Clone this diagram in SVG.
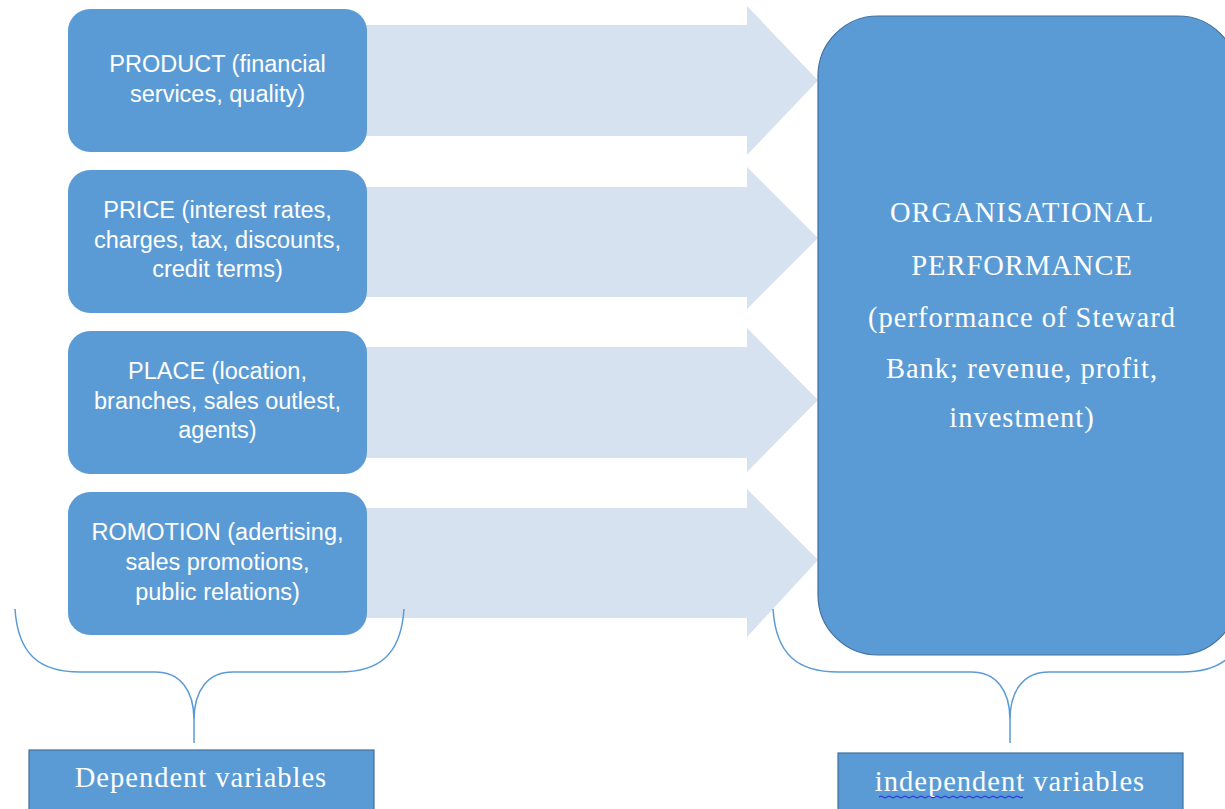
<svg xmlns="http://www.w3.org/2000/svg" width="1225" height="809" viewBox="0 0 1225 809">
<style>
.box{fill:#5b9bd5;}
.big{fill:#5b9bd5;stroke:#41719c;stroke-width:1.2;}
.arrow{fill:#d7e2f1;}
.brace{fill:none;stroke:#5b9bd5;stroke-width:1.5;}
.lbl{fill:#5b9bd5;stroke:#41719c;stroke-width:1.2;}
.sans{font-family:"Liberation Sans",Arial,sans-serif;font-size:23.5px;fill:#ffffff;text-anchor:middle;}
.serif{font-family:"Liberation Serif","Times New Roman",serif;font-size:28.5px;letter-spacing:1px;fill:#ffffff;text-anchor:middle;}
</style>
<rect width="1225" height="809" fill="#ffffff"/>
<g id="connectors">
<polygon class="arrow" points="340,25 747,25 747,6 818,80.5 747,155 747,136 340,136"/>
<polygon class="arrow" points="340,187 747,187 747,167 818,238 747,309 747,297 340,297"/>
<polygon class="arrow" points="340,347 747,347 747,328 818,400 747,472 747,458 340,458"/>
<polygon class="arrow" points="340,508 747,508 747,489 818,560 747,637 747,618 340,618"/>
<path class="brace" d="M15,609 C18,655 40,672 80,672 L155,672 C180,672 194,690 194,720 L194,743 M404,609 C401,655 379,672 339,672 L233,672 C208,672 194,690 194,720"/>
<path class="brace" d="M773,609 C776,655 798,672 838,672 L971,672 C996,672 1010,690 1010,720 L1010,743 M1247,609 C1244,655 1222,672 1182,672 L1049,672 C1024,672 1010,690 1010,720"/>
</g>
<g id="product">
<rect class="box" x="68" y="9" width="299" height="143" rx="22"/>
<text class="sans" x="217.5" y="72">PRODUCT (financial</text>
<text class="sans" x="217.5" y="102">services, quality)</text>
</g>
<g id="price">
<rect class="box" x="68" y="170" width="299" height="143" rx="22"/>
<text class="sans" x="217.5" y="218">PRICE (interest rates,</text>
<text class="sans" x="217.5" y="248">charges, tax, discounts,</text>
<text class="sans" x="217.5" y="277">credit terms)</text>
</g>
<g id="place">
<rect class="box" x="68" y="331" width="299" height="143" rx="22"/>
<text class="sans" x="217.5" y="379">PLACE (location,</text>
<text class="sans" x="217.5" y="409">branches, sales outlest,</text>
<text class="sans" x="217.5" y="438">agents)</text>
</g>
<g id="promotion">
<rect class="box" x="68" y="492" width="299" height="143" rx="22"/>
<text class="sans" x="217.5" y="540">ROMOTION (adertising,</text>
<text class="sans" x="217.5" y="570">sales promotions,</text>
<text class="sans" x="217.5" y="600">public relations)</text>
</g>
<g id="performance">
<rect class="big" x="818" y="16" width="420" height="639" rx="60"/>
<text class="serif" x="1022" y="222">ORGANISATIONAL</text>
<text class="serif" x="1022" y="275">PERFORMANCE</text>
<text class="serif" x="1022" y="327">(performance of Steward</text>
<text class="serif" x="1022" y="378">Bank; revenue, profit,</text>
<text class="serif" x="1022" y="427">investment)</text>
</g>
<g id="dependent">
<rect class="lbl" x="29" y="750" width="345" height="70"/>
<text class="serif" x="201" y="787">Dependent variables</text>
</g>
<g id="independent">
<rect class="lbl" x="838" y="753" width="345" height="70"/>
<text class="serif" x="1010" y="791">independent variables</text>
<path d="M879,797 q2,-2 4,0 t4,0 t4,0 t4,0 t4,0 t4,0 t4,0 t4,0 t4,0 t4,0 t4,0 t4,0 t4,0 t4,0 t4,0 t4,0 t4,0 t4,0 t4,0 t4,0 t4,0 t4,0 t4,0 t4,0 t4,0 t4,0 t4,0 t4,0 t4,0 t4,0 t4,0 t4,0 t4,0 t4,0 t4,0 t4,0" fill="none" stroke="#2020e0" stroke-width="1"/>
</g>
</svg>
